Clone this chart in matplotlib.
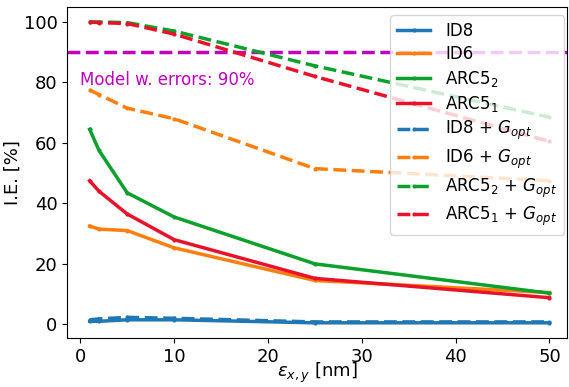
import matplotlib.pyplot as plt

eps = [1, 2, 5, 10, 25, 50]

id8 = [1.0, 1.0, 1.5, 1.5, 0.5, 0.5]
id6 = [32.5, 31.5, 31.0, 25.3, 14.5, 10.5]
arc52 = [64.5, 57.5, 43.5, 35.5, 20.0, 10.3]
arc51 = [47.5, 44.0, 36.5, 28.0, 15.2, 8.8]

id8_g = [1.5, 1.8, 2.3, 2.0, 0.8, 0.8]
id6_g = [77.5, 76.0, 71.5, 68.0, 51.5, 47.5]
arc52_g = [100.0, 100.0, 99.8, 97.0, 85.5, 68.5]
arc51_g = [100.0, 99.8, 99.5, 96.0, 82.0, 60.5]

nombres = ['ID8', 'ID6', 'ARC5$_2$', 'ARC5$_1$']
colores = ['#1f77b4', '#ff7f0e', '#0ca02c', '#e8132b']
modelo = 90


def main():
    plt.rcParams['font.size'] = 13
    fig, ax = plt.subplots(figsize=(5.69, 3.87), dpi=100)

    ax.axhline(modelo, color='m', ls='--', lw=2.5)

    for serie, nombre, c in zip([id8, id6, arc52, arc51], nombres, colores):
        ax.plot(eps, serie, '-', marker='.', ms=4, lw=2.5, color=c, label=nombre)
    for serie, nombre, c in zip([id8_g, id6_g, arc52_g, arc51_g], nombres, colores):
        ax.plot(eps, serie, '--', marker='.', ms=4, lw=2.5, color=c,
                label=nombre + ' + $G_{opt}$')

    ax.text(0, 79, 'Model w. errors: %d%%' % modelo, color='m', fontsize=12)

    ax.set_xlabel(r'$\epsilon_{x,y}$ [nm]')
    ax.xaxis.set_label_coords(0.5, -0.07)
    ax.set_ylabel('I.E. [%]')
    ax.yaxis.set_label_coords(-0.09, 0.5)
    ax.set_xticks([0, 10, 20, 30, 40, 50])
    ax.set_yticks([0, 20, 40, 60, 80, 100])
    ax.set_xlim(-1.4, 51.9)
    ax.legend(loc='upper right', bbox_to_anchor=(1.01, 1.0), fontsize=12,
              labelspacing=0.32, handletextpad=0.9)

    fig.subplots_adjust(left=0.118, right=0.997, top=0.982, bottom=0.127)
    fig.savefig('out.png')


if __name__ == "__main__":
    main()
